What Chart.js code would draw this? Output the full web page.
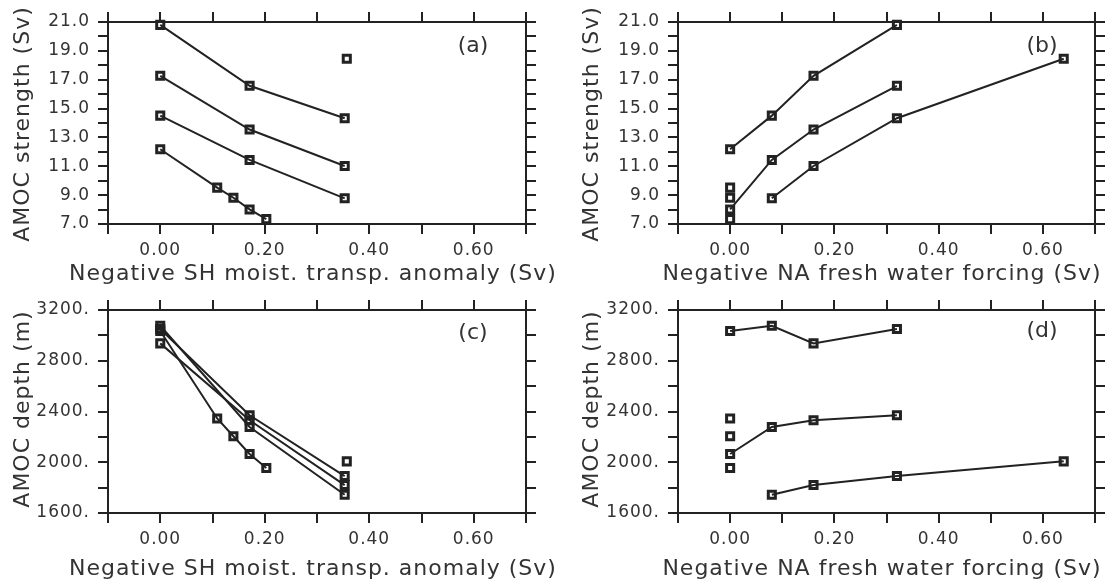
<!DOCTYPE html>
<html>
<head>
<meta charset="utf-8">
<script src="https://cdn.jsdelivr.net/npm/chart.js@4.4.1/dist/chart.umd.min.js"></script>
<style>
  html, body { margin: 0; padding: 0; background: #fff; }
  #wrap { position: relative; width: 1115px; height: 587px; overflow: hidden;
          font-family: "DejaVu Sans", sans-serif; color: #333; }
  #wrap canvas { position: absolute; }
  .txt { position: absolute; font-size: 22px; line-height: 22px; letter-spacing: 1px;
         white-space: nowrap; text-align: center; width: 600px; height: 22px; }
  .lbl { width: 60px; letter-spacing: 0; }
  .rot { transform: rotate(-90deg); }
</style>
</head>
<body>
<div id="wrap">
  <canvas id="panelA" width="557" height="290" style="left:0;top:0"></canvas>
  <canvas id="panelB" width="558" height="290" style="left:557px;top:0"></canvas>
  <canvas id="panelC" width="557" height="297" style="left:0;top:290px"></canvas>
  <canvas id="panelD" width="558" height="297" style="left:557px;top:290px"></canvas>

  <div class="txt" style="left:13px;top:262px">Negative SH moist. transp. anomaly (Sv)</div>
  <div class="txt" style="left:582px;top:262px">Negative NA fresh water forcing (Sv)</div>
  <div class="txt" style="left:13px;top:557px">Negative SH moist. transp. anomaly (Sv)</div>
  <div class="txt" style="left:582px;top:557px">Negative NA fresh water forcing (Sv)</div>

  <div class="txt rot" style="left:-278px;top:113px">AMOC strength (Sv)</div>
  <div class="txt rot" style="left:291px;top:113px">AMOC strength (Sv)</div>
  <div class="txt rot" style="left:-278px;top:398px">AMOC depth (m)</div>
  <div class="txt rot" style="left:291px;top:398px">AMOC depth (m)</div>

  <div class="txt lbl" style="left:443px;top:34px">(a)</div>
  <div class="txt lbl" style="left:1012px;top:34px">(b)</div>
  <div class="txt lbl" style="left:443px;top:321px">(c)</div>
  <div class="txt lbl" style="left:1012px;top:319px">(d)</div>
</div>

<script>
document.addEventListener("DOMContentLoaded", function () {
    "use strict";

    // ---- data ----

    // panels (a) and (c): x = negative SH moisture transport anomaly (Sv), one line per NA forcing
    const shRuns = [0.0, 0.171, 0.353];
    const shRunsNA0 = [0.0, 0.109, 0.140, 0.171, 0.203];
    const shExtra = [0.357];

    const strengthNA032 = [20.8, 16.58, 14.33];
    const strengthNA016 = [17.27, 13.55, 11.02];
    const strengthNA008 = [14.51, 11.44, 8.78];
    const strengthNA000 = [12.18, 9.52, 8.82, 8.01, 7.34];
    const strengthNA064 = [18.45];

    const depthNA032 = [3050, 2370, 1891];
    const depthNA016 = [2937, 2331, 1820];
    const depthNA008 = [3076, 2278, 1744];
    const depthNA000 = [3034, 2345, 2205, 2065, 1954];
    const depthNA064 = [2007];

    // panels (b) and (d): x = negative NA fresh water forcing (Sv), one line per SH anomaly
    const naRuns = [0.0, 0.08, 0.16, 0.32];
    const naRunsHigh = [0.08, 0.16, 0.32, 0.64];
    const naSingles = [0.0, 0.0, 0.0];

    const strengthSH000 = [12.18, 14.51, 17.27, 20.8];
    const strengthSH017 = [8.01, 11.44, 13.55, 16.58];
    const strengthSH035 = [8.78, 11.02, 14.33, 18.45];
    const strengthSingles = [9.52, 8.82, 7.34];

    const depthSH000 = [3034, 3076, 2937, 3050];
    const depthSH017 = [2065, 2278, 2331, 2370];
    const depthSH035 = [1744, 1820, 1891, 2007];
    const depthSingles = [2345, 2205, 1954];

    // ---- styling ----
    const ink = "#222222";
    Chart.defaults.font.family = '"DejaVu Sans", sans-serif';
    Chart.defaults.color = "#333333";

    function pts(xs, ys) {
        return xs.map((x, i) => ({ x: x, y: ys[i] }));
    }

    function series(xs, ys, line) {
        return {
            data: pts(xs, ys),
            showLine: line,
            borderColor: ink,
            borderWidth: 2,
            tension: 0,
            pointStyle: "rect",
            pointRadius: 5,
            pointBorderWidth: 3,
            pointBorderColor: ink,
            pointBackgroundColor: "rgba(255,255,255,0)",
            clip: false
        };
    }

    function xLabel(v) {
        const n = Math.round(v * 10);
        return (n >= 0 && n % 2 === 0) ? (n / 10).toFixed(2) : "";
    }

    function makeScales(yMin, yMax, yStep, yLabel, yWidth, xHeight) {
        const grid = { drawOnChartArea: false, drawTicks: true, tickLength: 10, color: ink, lineWidth: 2 };
        const border = { display: true, color: ink, width: 2 };
        return {
            x: {
                type: "linear", position: "bottom", min: -0.1, max: 0.7,
                grid: grid, border: border,
                ticks: { stepSize: 0.1, autoSkip: false, maxRotation: 0, padding: 6,
                         font: { size: 17 }, callback: xLabel },
                afterFit: function (s) { s.height = xHeight; }
            },
            x2: {
                type: "linear", position: "top", min: -0.1, max: 0.7,
                grid: grid, border: border,
                ticks: { stepSize: 0.1, display: false },
                afterFit: function (s) { s.height = 10; }
            },
            y: {
                type: "linear", position: "left", min: yMin, max: yMax,
                grid: grid, border: border,
                ticks: { stepSize: yStep, autoSkip: false, padding: 8,
                         font: { size: 17 }, callback: yLabel },
                afterFit: function (s) { s.width = yWidth; }
            },
            y2: {
                type: "linear", position: "right", min: yMin, max: yMax,
                grid: grid, border: border,
                ticks: { stepSize: yStep, display: false },
                afterFit: function (s) { s.width = 10; }
            }
        };
    }

    const strengthLabel = v => (Math.round(v) % 2 === 1 ? v.toFixed(1) : "");
    const depthLabel = v => (Math.round(v) % 400 === 0 ? Math.round(v) + "." : "");

    // wider letter spacing, like the original plotting font
    const spacing = {
        id: "spacing",
        beforeDraw: function (chart) { chart.ctx.letterSpacing = "1px"; }
    };

    function makeChart(id, datasets, scales, padding) {
        let canvas = document.getElementById(id);
        if (!canvas) return;
        new Chart(canvas.getContext("2d"), {
            type: "scatter",
            data: { datasets: datasets },
            options: {
                responsive: false,
                devicePixelRatio: 1,
                animation: false,
                layout: { padding: padding },
                plugins: { legend: { display: false }, tooltip: { enabled: false } },
                scales: scales
            },
            plugins: [spacing]
        });
    }

    // (a) strength vs SH anomaly
    makeChart("panelA", [
        series(shRuns, strengthNA032, true),
        series(shRuns, strengthNA016, true),
        series(shRuns, strengthNA008, true),
        series(shRunsNA0, strengthNA000, true),
        series(shExtra, strengthNA064, false)
    ], makeScales(7, 21, 1, strengthLabel, 108, 66), { top: 12, right: 21, bottom: 0, left: 0 });

    // (b) strength vs NA forcing
    makeChart("panelB", [
        series(naRuns, strengthSH000, true),
        series(naRuns, strengthSH017, true),
        series(naRunsHigh, strengthSH035, true),
        series(naSingles, strengthSingles, false)
    ], makeScales(7, 21, 1, strengthLabel, 121, 66), { top: 12, right: 10, bottom: 0, left: 0 });

    // (c) depth vs SH anomaly
    makeChart("panelC", [
        series(shRuns, depthNA032, true),
        series(shRuns, depthNA016, true),
        series(shRuns, depthNA008, true),
        series(shRunsNA0, depthNA000, true),
        series(shExtra, depthNA064, false)
    ], makeScales(1600, 3200, 200, depthLabel, 108, 74), { top: 10, right: 21, bottom: 0, left: 0 });

    // (d) depth vs NA forcing
    makeChart("panelD", [
        series(naRuns, depthSH000, true),
        series(naRuns, depthSH017, true),
        series(naRunsHigh, depthSH035, true),
        series(naSingles, depthSingles, false)
    ], makeScales(1600, 3200, 200, depthLabel, 121, 74), { top: 10, right: 10, bottom: 0, left: 0 });
});
</script>
</body>
</html>
